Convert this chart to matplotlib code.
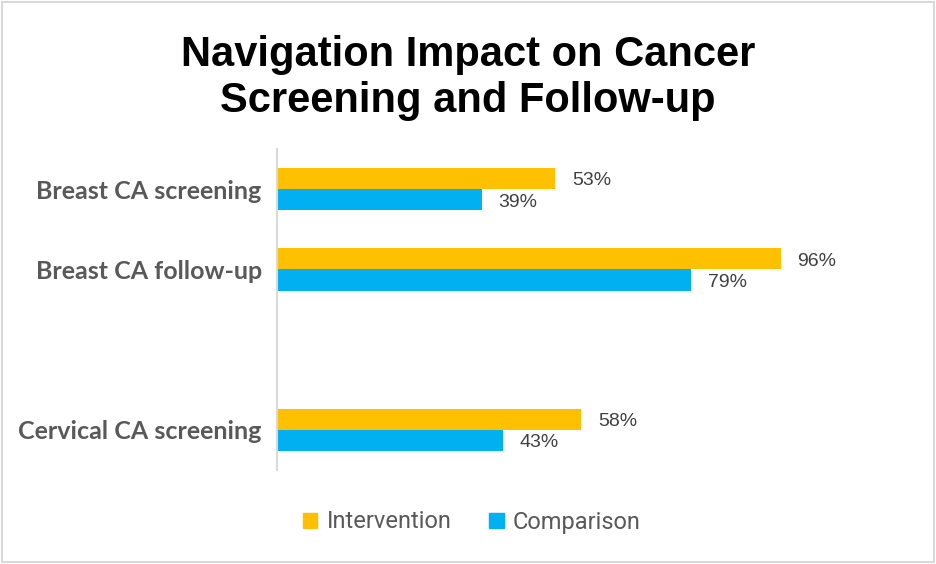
import matplotlib.pyplot as plt
from matplotlib.patches import Rectangle, Patch
import numpy as np

# chart data
categories = ['Breast CA screening', 'Breast CA follow-up', '', 'Cervical CA screening']
intervention = [53, 96, None, 58]
comparison = [39, 79, None, 43]
series_names = ['Intervention', 'Comparison']

yellow = '#FFC000'
blue = '#00B0F0'
grey = '#595959'

fig = plt.figure(figsize=(9.36, 5.64), dpi=100)
W, H = 936, 564

# plot area in pixels: left 277, top 149, bottom 470
ax = fig.add_axes([277 / W, 1 - 470 / H, 600 / W, 321 / H])

ypos = np.arange(len(categories))
bh = 0.265
for i, (a, b) in enumerate(zip(intervention, comparison)):
    if a is None:
        continue
    ax.barh(i - bh / 2, a, height=bh, color=yellow)
    ax.barh(i + bh / 2, b, height=bh, color=blue)
    # labels sit a touch below bar centre like the original
    ax.text(a + 3.2, i - bh / 2 + 0.03, f'{a}%', va='center', ha='left', fontsize=14,
            color='#404040', family='Liberation Sans')
    ax.text(b + 3.2, i + bh / 2 + 0.03, f'{b}%', va='center', ha='left', fontsize=14,
            color='#404040', family='Liberation Sans')

ax.set_ylim(len(categories) - 0.5, -0.5)
ax.set_xlim(0, 600 / 5.245)
ax.set_yticks(ypos)
ax.set_yticklabels(categories, fontsize=18, fontweight='bold', color=grey, family='Lato')
ax.tick_params(axis='y', length=0, pad=11)
ax.set_xticks([])
for s in ['top', 'right', 'bottom']:
    ax.spines[s].set_visible(False)
ax.spines['left'].set_color('#D9D9D9')
ax.spines['left'].set_linewidth(1.5)

fig.text(0.5, 1 - 66 / H, 'Navigation Impact on Cancer', ha='center', va='baseline',
         fontsize=30, fontweight='bold', family='Liberation Sans')
fig.text(0.5, 1 - 112 / H, 'Screening and Follow-up', ha='center', va='baseline',
         fontsize=30, fontweight='bold', family='Liberation Sans')

handles = [Patch(color=yellow), Patch(color=blue)]
leg = fig.legend(handles, series_names, loc='center', bbox_to_anchor=(472 / W, 1 - 522 / H),
                 ncol=2, frameon=False, handlelength=0.6, handleheight=0.6,
                 handletextpad=0.4, columnspacing=1.6,
                 prop={'family': 'Roboto', 'size': 17})
for t in leg.get_texts():
    t.set_color(grey)

# outer border
fig.patches.append(Rectangle((2 / W, 2 / H), 1 - 4 / W, 1 - 4 / H, transform=fig.transFigure,
                             fill=False, edgecolor='#D9D9D9', linewidth=1.5))

fig.savefig('out.png', dpi=100)
